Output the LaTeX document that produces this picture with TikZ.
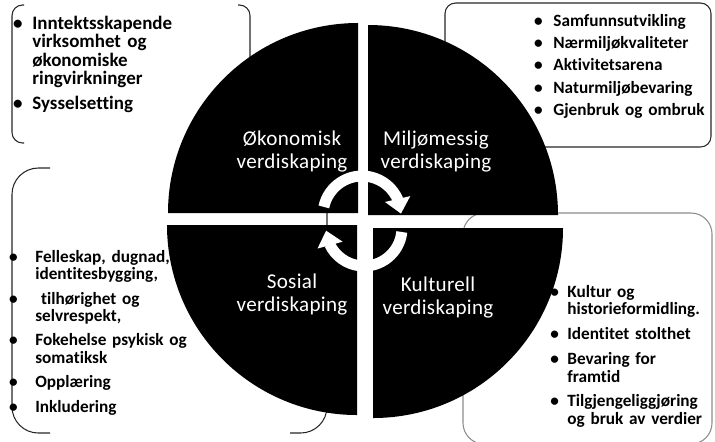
\documentclass[tikz,border=0pt]{standalone}
\usepackage{fontspec}
\setmainfont{Carlito}[Ligatures=NoCommon]
\newfontfamily\merkefam{Carlito}[LetterSpace=1.5, Ligatures=NoCommon]
\usetikzlibrary{arrows.meta,bending}
\newcommand{\pkt}[1][5.5pt]{\leavevmode\llap{\textbullet\hspace{#1}}\ignorespaces}
\newcommand{\listefont}{\fontsize{9.8}{10.2}\selectfont\bfseries}
\newcommand{\merkefont}{\merkefam\fontsize{12}{13.6}\selectfont}

\begin{document}
\begin{tikzpicture}[x=0.02cm, y=-0.02cm,
  kvadrant/.style={fill=black},
  ramme/.style={draw=black!85, line width=0.6pt},
  pil/.style={white, line width=0.22cm, -{Triangle[width=0.5cm, length=0.3cm]}},
  merke/.style={white, font=\merkefont, text width=3cm, align=center, anchor=base, inner sep=0pt},
  liste/.style={font=\listefont, text width=4cm, align=left, anchor=base west, inner sep=0pt}]
  \useasboundingbox (0,0) rectangle (715,441);
  \clip (0,0) rectangle (715,441);
  % rammene bak sirkelen
  \draw[ramme, rounded corners=6pt] (24,5) -- (12,5) -- (12,143) -- (24,143);
  \draw[ramme, rounded corners=6pt] (238,5) -- (250,5) -- (250,143) -- (238,143);
  \draw[ramme, rounded corners=6pt] (445,3) rectangle (711,147);
  \draw[ramme, rounded corners=15pt] (50,168) -- (12,168) -- (12,433) -- (50,433);
  \draw[ramme, rounded corners=15pt] (290,168) -- (327,168) -- (327,433) -- (290,433);
  \draw[ramme, draw=black!45, rounded corners=12pt] (463,213) rectangle (712,444);
  % sirkelen i fire deler
  \fill[kvadrant] (358,213) -- ++(180:190) arc[start angle=180, end angle=270, radius=190] -- cycle;
  \fill[kvadrant] (368,215) -- ++(270:190) arc[start angle=270, end angle=360, radius=190] -- cycle;
  \fill[kvadrant] (373,228) -- ++(0:190) arc[start angle=0, end angle=90, radius=190] -- cycle;
  \fill[kvadrant] (357,225) -- ++(90:190) arc[start angle=90, end angle=180, radius=190] -- cycle;
  % pilene i midten
  \draw[pil] (362,215) ++(192:39) arc[start angle=192, end angle=358, radius=39];
  \draw[pil] (364,228) ++(6:38) arc[start angle=6, end angle=176, radius=38];
  % navn paa kvadrantene
  \node[merke] (okon) at (292,145) {Økonomisk\\verdiskaping};
  \node[merke] (miljo) at (436,145) {Miljømessig\\verdiskaping};
  \node[merke] (sosial) at (292,288) {Sosial\\verdiskaping};
  \node[merke] (kultur) at (438,291) {Kulturell\\verdiskaping};
  % punktlistene
  \node[liste, font=\fontsize{10.8}{10.6}\selectfont\bfseries] (okonliste) at (32,29) {\pkt Inntektsskapende\\ virksomhet og\\ økonomiske\\ ringvirkninger\\[3.2pt]\pkt Sysselsetting};
  \node[liste, text width=3.2cm] (miljoliste) at (553,26) {\pkt[6pt] Samfunnsutvikling\\[2.6pt]\pkt[6pt] Nærmiljøkvaliteter\\[2.6pt]\pkt[6pt] Aktivitetsarena\\[2.6pt]\pkt[6pt] Naturmiljøbevaring\\[2.6pt]\pkt[6pt] Gjenbruk og ombruk};
  \node[liste] (sosialliste) at (35,262) {\pkt[10pt] Felleskap, dugnad,\\ identitesbygging,\\[3.5pt]\pkt[10pt]\ tilhørighet og\\ selvrespekt,\\[3.5pt]\pkt[10pt] Fokehelse psykisk og\\ somatiksk\\[3.5pt]\pkt[10pt] Opplæring\\[3.5pt]\pkt[10pt] Inkludering};
  \node[liste, text width=2.9cm] (kulturliste) at (567,297) {\pkt[4.8pt] Kultur og\\ historieformidling.\\[3.8pt]\pkt[4.8pt] Identitet stolthet\\[3.8pt]\pkt[4.8pt] Bevaring for\\ framtid\\[3.8pt]\pkt[4.8pt] Tilgjengeliggjøring\\ og bruk av verdier};
\end{tikzpicture}
\end{document}
